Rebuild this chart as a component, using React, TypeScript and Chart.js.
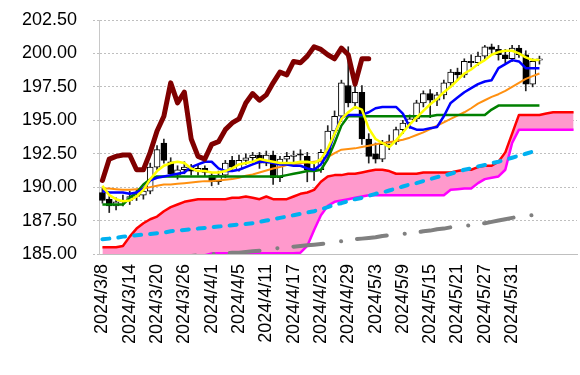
import React, { useEffect, useRef } from 'react';
import { Chart, registerables } from 'chart.js';

Chart.register(...registerables);

const categories = [
  '2024/3/8', '2024/3/11', '2024/3/12', '2024/3/13', '2024/3/14', '2024/3/15',
  '2024/3/18', '2024/3/19', '2024/3/20', '2024/3/21', '2024/3/22',
  '2024/3/25', '2024/3/26', '2024/3/27', '2024/3/28', '2024/3/29',
  '2024/4/1', '2024/4/2', '2024/4/3', '2024/4/4', '2024/4/5',
  '2024/4/8', '2024/4/9', '2024/4/10', '2024/4/11', '2024/4/12',
  '2024/4/15', '2024/4/16', '2024/4/17', '2024/4/18', '2024/4/19',
  '2024/4/22', '2024/4/23', '2024/4/24', '2024/4/25', '2024/4/26',
  '2024/4/29', '2024/4/30', '2024/5/1', '2024/5/2', '2024/5/3',
  '2024/5/6', '2024/5/7', '2024/5/8', '2024/5/9', '2024/5/10',
  '2024/5/13', '2024/5/14', '2024/5/15', '2024/5/16', '2024/5/17',
  '2024/5/20', '2024/5/21', '2024/5/22', '2024/5/23', '2024/5/24',
  '2024/5/27', '2024/5/28', '2024/5/29', '2024/5/30', '2024/5/31',
  '2024/6/3', '2024/6/4', '2024/6/5', '2024/6/6', '2024/6/7',
  '2024/6/10', '2024/6/11', '2024/6/12', '2024/6/13',
];

const tickLabels = [
  '2024/3/8', '2024/3/14', '2024/3/20', '2024/3/26', '2024/4/1', '2024/4/5',
  '2024/4/11', '2024/4/17', '2024/4/23', '2024/4/29', '2024/5/3', '2024/5/9',
  '2024/5/15', '2024/5/21', '2024/5/27', '2024/5/31',
];

const openP = [
  189.6, 189.1, 188.6, 188.9, 189.0, 189.3, 189.4, 189.7, 191.5, 193.3,
  191.9, 190.9, 191.3, 191.5, 191.2, 191.4, 190.9, 190.4, 190.9, 192.0,
  191.3, 192.0, 192.2, 192.4, 191.8, 192.4, 190.7, 192.1, 192.3, 192.5,
  192.3, 191.2, 191.3, 192.6, 194.2, 195.3, 197.6, 196.3, 197.1, 193.6,
  192.5, 192.1, 193.2, 193.4, 194.3, 194.8, 195.1, 196.3, 197.0, 196.5,
  196.9, 197.8, 198.6, 198.4, 199.4, 199.3, 199.8, 200.5, 200.3, 199.9,
  199.6, 200.4, 199.9, 197.7, 199.5,
];
const highP = [
  189.9, 189.3, 189.2, 189.4, 189.7, 189.8, 190.0, 191.8, 193.1, 193.6,
  192.2, 191.6, 191.9, 191.7, 191.7, 191.6, 191.1, 191.2, 192.0, 192.3,
  192.4, 192.5, 192.6, 192.6, 192.7, 192.7, 192.3, 192.6, 192.7, 192.8,
  192.6, 191.8, 192.8, 194.6, 195.7, 198.0, 200.5, 197.6, 197.6, 194.0,
  193.3, 193.5, 193.9, 194.5, 195.0, 195.4, 196.5, 197.2, 197.3, 197.1,
  198.0, 198.8, 198.9, 199.6, 199.9, 200.1, 200.6, 200.7, 200.6, 200.3,
  200.6, 200.6, 200.2, 199.6, 199.8,
];
const lowP = [
  188.8, 188.1, 188.3, 188.6, 188.7, 189.0, 189.1, 189.5, 191.3, 191.8,
  190.8, 190.6, 191.0, 190.9, 190.9, 190.8, 190.1, 190.2, 190.7, 191.3,
  191.2, 191.7, 191.8, 191.4, 191.6, 190.2, 190.4, 191.8, 191.9, 192.0,
  190.4, 190.5, 191.1, 192.5, 193.9, 194.9, 196.0, 195.9, 193.2, 191.8,
  191.8, 191.9, 192.8, 193.2, 194.0, 194.4, 194.9, 196.0, 195.2, 196.1,
  196.6, 197.5, 198.0, 198.2, 199.0, 199.1, 199.6, 200.0, 199.5, 199.3,
  199.4, 199.7, 197.2, 197.5, 199.2,
];
const closeP = [
  189.0, 188.6, 188.9, 189.0, 189.3, 189.4, 189.7, 191.5, 192.8, 192.0,
  191.0, 191.3, 191.5, 191.2, 191.4, 191.1, 190.4, 190.9, 191.8, 191.5,
  192.0, 192.2, 192.4, 191.8, 192.4, 190.7, 192.1, 192.3, 192.4, 192.4,
  191.3, 191.35, 192.6, 194.2, 195.3, 197.8, 196.3, 197.1, 193.6, 192.3,
  192.1, 193.2, 193.4, 194.3, 194.8, 195.1, 196.3, 197.0, 196.5, 196.9,
  197.8, 198.6, 198.4, 199.4, 199.3, 199.8, 200.5, 200.3, 199.9, 199.6,
  200.4, 199.9, 197.7, 199.4, 199.6,
];

const tenkan = [
  189.7, 189.6, 189.6, 189.6, 189.5, 189.6, 189.9, 190.5, 190.7, 190.8,
  190.9, 191.0, 191.1, 191.5, 191.7, 191.9, 191.9, 191.4, 191.2, 191.2,
  191.3, 191.5, 191.7, 191.9, 191.9, 191.8, 191.7, 191.7, 191.6, 191.6,
  191.4, 191.3, 191.7, 192.5, 194.0, 195.2, 195.4, 195.4, 195.4, 195.6,
  195.9, 196.0, 196.0, 196.0, 195.5, 194.5, 194.3, 194.3, 194.4, 194.5,
  195.3, 196.3, 196.7, 197.1, 197.4, 197.7, 197.9, 198.0, 198.9, 199.2,
  199.5, 199.4, 198.9, 198.9, 198.9,
];
const kijun = [
  188.7, 188.7, 188.7, 188.7, 189.2, 189.6, 190.2, 190.6, 190.8, 190.8,
  190.8, 190.8, 190.8, 190.8, 190.8, 190.8, 190.8, 190.8, 190.8, 190.8,
  190.8, 190.8, 190.8, 190.8, 190.8, 190.8, 190.8, 190.9, 191.0, 191.1,
  191.2, 191.2, 191.3, 192.1, 193.3, 194.6, 195.3, 195.3, 195.3, 195.3,
  195.3, 195.3, 195.3, 195.3, 195.3, 195.3, 195.3, 195.3, 195.3, 195.4,
  195.4, 195.4, 195.4, 195.4, 195.4, 195.4, 195.4, 195.8, 196.1, 196.1,
  196.1, 196.1, 196.1, 196.1, 196.1,
];
const maShort = [
  190.1, 189.4, 189.1, 188.95, 189.0, 189.3, 189.8, 190.6, 191.2, 191.6,
  191.8, 191.9, 191.8, 191.4, 191.2, 191.2, 191.1, 191.1, 191.2, 191.4,
  191.7, 191.8, 191.9, 192.1, 192.0, 191.9, 191.8, 191.8, 191.8, 191.9,
  191.9, 191.8, 192.1, 192.9, 194.0, 195.1, 195.6, 196.0, 195.8, 194.4,
  193.6, 193.3, 193.0, 193.5, 194.1, 194.7, 195.2, 195.7, 196.2, 196.6,
  197.1, 197.5, 198.0, 198.5, 198.8, 199.2, 199.5, 199.9, 200.1, 200.2,
  200.2, 200.0, 199.7, 199.5, 199.5,
];
const maMid = [
  189.9, 189.9, 189.85, 189.8, 189.8, 189.85, 189.9, 190.0, 190.1, 190.2,
  190.2, 190.25, 190.3, 190.35, 190.4, 190.45, 190.45, 190.5, 190.55, 190.6,
  190.7, 190.85, 190.95, 191.1, 191.25, 191.4, 191.5, 191.65, 191.7, 191.8,
  191.85, 191.9, 191.95, 192.25, 192.55, 192.8, 192.85, 192.9, 193.0, 193.1,
  193.2, 193.3, 193.35, 193.45, 193.55, 193.7, 193.9, 194.1, 194.35, 194.6,
  194.85, 195.1, 195.35, 195.6, 195.9, 196.25, 196.5, 196.75, 196.95, 197.2,
  197.5, 197.8, 198.1, 198.3, 198.5,
];
const maLong = [
  186.1, 186.15, 186.2, 186.3, 186.35, 186.4, 186.45, 186.5, 186.55, 186.6,
  186.7, 186.75, 186.8, 186.85, 186.9, 186.95, 187.0, 187.05, 187.1, 187.15,
  187.2, 187.25, 187.3, 187.4, 187.5, 187.6, 187.7, 187.8, 187.9, 188.0,
  188.1, 188.2, 188.35, 188.5, 188.7, 188.8, 188.95, 189.1, 189.2, 189.35,
  189.5, 189.6, 189.75, 189.9, 190.05, 190.2, 190.3, 190.45, 190.6, 190.75,
  190.85, 191.0, 191.15, 191.3, 191.4, 191.55, 191.65, 191.8, 191.9, 192.05,
  192.2, 192.35, 192.5, 192.65, 192.8,
];
const maVeryLong = [
  184.0, 184.05, 184.1, 184.2, 184.25, 184.3, 184.4, 184.45, 184.5, 184.6,
  184.65, 184.7, 184.8, 184.85, 184.9, 184.95, 185.0, 185.0, 185.05, 185.1,
  185.1, 185.15, 185.2, 185.25, 185.3, 185.4, 185.45, 185.5, 185.55, 185.6,
  185.65, 185.7, 185.75, 185.8, 185.9, 185.95, 186.0, 186.1, 186.15, 186.2,
  186.25, 186.35, 186.4, 186.45, 186.5, 186.55, 186.6, 186.7, 186.75, 186.85,
  186.9, 187.0, 187.05, 187.1, 187.15, 187.25, 187.3, 187.4, 187.5, 187.6,
  187.7, 187.8, 187.85, 187.9, 187.95,
];
const senkouA = [
  185.5, 185.5, 185.5, 185.6, 186.3, 186.9, 187.3, 187.6, 187.8, 188.2,
  188.5, 188.7, 188.9, 189.0, 189.1, 189.1, 189.1, 189.1, 189.1, 189.2,
  189.2, 189.3, 189.2, 189.1, 189.3, 189.1, 189.1, 189.1, 189.3, 189.5,
  189.6, 189.8, 190.4, 190.8, 190.9, 190.9, 191.0, 191.0, 191.1, 191.2,
  191.3, 191.3, 191.2, 191.0, 191.0, 191.0, 191.0, 191.1, 191.1, 191.1,
  191.1, 191.1, 191.2, 191.3, 191.3, 191.5, 191.6, 191.6, 191.9, 192.6,
  194.0, 195.4, 195.4, 195.4, 195.4, 195.5, 195.6, 195.6, 195.6, 195.6,
];
const senkouB = [
  184.6, 184.6, 184.6, 184.6, 184.6, 184.6, 184.6, 184.6, 184.6, 184.6,
  184.6, 184.6, 184.6, 184.7, 184.8, 184.9, 185.05, 185.05, 185.05, 185.05,
  185.05, 185.05, 185.05, 185.05, 185.05, 185.05, 185.05, 185.05, 185.05, 185.1,
  185.6, 186.8, 187.9, 188.6, 188.9, 189.0, 189.1, 189.2, 189.3, 189.4,
  189.4, 189.4, 189.4, 189.4, 189.4, 189.4, 189.4, 189.4, 189.4, 189.4,
  189.4, 189.8, 189.85, 189.9, 189.9, 190.3, 190.6, 190.7, 190.8, 191.3,
  193.3, 194.3, 194.3, 194.3, 194.3, 194.3, 194.3, 194.3, 194.3, 194.3,
];
const chikou = [
  190.5, 192.1, 192.3, 192.4, 192.4, 191.3, 191.3, 192.6, 194.2, 195.3,
  197.8, 196.3, 197.1, 193.6, 192.3, 192.1, 193.2, 193.4, 194.3, 194.8,
  195.1, 196.3, 197.0, 196.5, 196.9, 197.8, 198.6, 198.4, 199.4, 199.3,
  199.8, 200.5, 200.3, 199.9, 199.6, 200.4, 199.9, 197.7, 199.6, 199.6,
];

const FONT = "'Liberation Sans', Arial, sans-serif";

export default function App() {
  const ref = useRef<HTMLCanvasElement | null>(null);

  useEffect(() => {
    if (!ref.current) return;
    const pad = (arr: number[]) => categories.map((_, i) => (i < arr.length ? arr[i] : null));
    const bodies = openP.map((o, i) => [o, closeP[i]]);
    const wicks = lowP.map((l, i) => [l, highP[i]]);
    const bodyColors = openP.map((o, i) => (closeP[i] >= o ? '#FFFFFF' : '#000000'));

    const line = (data: any[], color: string, width: number, order: number, extra: any = {}) => ({
      type: 'line',
      data,
      borderColor: color,
      backgroundColor: color,
      borderWidth: width,
      pointRadius: 0,
      pointHoverRadius: 0,
      tension: 0,
      fill: false,
      spanGaps: false,
      borderJoinStyle: 'round',
      order,
      ...extra,
    });

    const chart = new Chart(ref.current, {
      type: 'bar',
      data: {
        labels: categories,
        datasets: [
          line(pad(chikou), '#800000', 5, 0, { borderCapStyle: 'round' }),
          line(pad(maShort), '#FFFF00', 2.5, 1),
          line(pad(tenkan), '#0000FF', 2.5, 2),
          line(pad(kijun), '#008000', 2.5, 3),
          line(pad(maMid), '#FF9010', 2, 4),
          {
            type: 'bar',
            data: bodies,
            backgroundColor: bodyColors,
            borderColor: '#000000',
            borderWidth: 1,
            borderSkipped: false,
            barThickness: 6,
            minBarLength: 1,
            grouped: false,
            order: 5,
          },
          {
            type: 'bar',
            data: wicks,
            backgroundColor: '#222222',
            borderWidth: 0,
            barThickness: 1,
            grouped: false,
            order: 6,
          },
          line(pad(maLong), '#00B0F0', 4, 7, { borderDash: [7, 9], borderCapStyle: 'round' }),
          line(pad(maVeryLong), '#808080', 4, 8, { borderDash: [30, 18, 0.1, 16], borderCapStyle: 'round' }),
          line(senkouA, '#FF0000', 2.5, 10, {
            fill: { target: '+1', above: '#FF99CC', below: '#FF99CC' },
            backgroundColor: '#FF99CC',
          }),
          line(senkouB, '#FF00FF', 2.5, 9),
        ],
      } as any,
      options: {
        animation: false,
        responsive: false,
        events: [],
        layout: { padding: { top: 20, right: 3, left: 0, bottom: 0 } },
        plugins: {
          legend: { display: false },
          tooltip: { enabled: false },
          title: { display: false },
        },
        scales: {
          x: {
            type: 'category',
            offset: true,
            grid: { display: false, drawTicks: false },
            border: { display: true, color: '#BFBFBF', width: 1 },
            ticks: {
              autoSkip: false,
              maxRotation: 90,
              minRotation: 90,
              padding: 10,
              color: '#000000',
              font: { family: FONT, size: 18 },
              callback: (_v: any, idx: number) =>
                tickLabels.includes(categories[idx]) ? categories[idx] : '',
            },
            afterFit: (s: any) => {
              s.height = 121;
              s.paddingLeft = 0;
              s.paddingRight = 0;
            },
          },
          y: {
            min: 185,
            max: 202.5,
            grid: {
              color: '#BFBFBF',
              lineWidth: 1,
              drawTicks: true,
              tickLength: 6,
              tickBorderDash: [2, 2],
            },
            border: { display: true, color: '#C8C8C8', width: 1, dash: [2, 2] },
            ticks: {
              stepSize: 2.5,
              padding: 16,
              color: '#000000',
              font: { family: FONT, size: 18 },
              callback: (v: any) => Number(v).toFixed(2),
            },
            afterFit: (s: any) => {
              s.width = 99;
              s.paddingTop = 0;
              s.paddingBottom = 0;
            },
          },
        },
      } as any,
    });
    return () => chart.destroy();
  }, []);

  return (
    <div style={{ position: 'fixed', left: 0, top: 0, width: 580, height: 375, background: '#fff' }}>
      <canvas ref={ref} width={580} height={375} style={{ display: 'block', width: 580, height: 375 }} />
    </div>
  );
}
